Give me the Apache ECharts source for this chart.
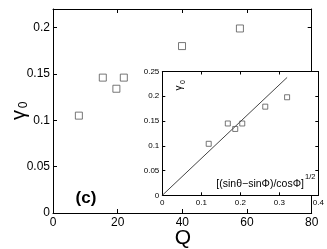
<!DOCTYPE html>
<html>
<head>
<meta charset="utf-8">
<script src="https://cdn.jsdelivr.net/npm/echarts@6/dist/echarts.min.js"></script>
<style>
html,body{margin:0;padding:0;background:#fff;}
#c{width:327px;height:249px;}
</style>
</head>
<body>
<div id="c"></div>
<script>
// Main panel data: gamma_0 versus Q
var qValues = [8.0, 15.4, 19.6, 21.9, 39.9, 57.8];
var gammaMain = [0.105, 0.146, 0.134, 0.146, 0.180, 0.199];
// Inset data: gamma_0 versus [(sin(theta)-sin(Phi))/cos(Phi)]^(1/2)
var sqrtRatio = [0.119, 0.168, 0.187, 0.205, 0.264, 0.320];
var gammaInset = [0.104, 0.145, 0.134, 0.145, 0.179, 0.198];
// Fitted straight line in the inset
var fitX = [0, 0.32];
var fitY = [0, 0.238];

var FONT = 'Liberation Sans, Arial, sans-serif';

function pairs(a, b) { return a.map(function (v, i) { return [v, b[i]]; }); }

var chart = echarts.init(document.getElementById('c'), null, {renderer: 'canvas'});

var lineStyle = {color: '#000', width: 1};
function mainAxis(extra) {
  return Object.assign({
    axisLine: {show: true, onZero: false, lineStyle: lineStyle},
    axisTick: {show: true, inside: true, length: 4, lineStyle: lineStyle},
    splitLine: {show: false},
    z: 1
  }, extra);
}
function insetAxis(extra) {
  return Object.assign({
    axisLine: {show: true, onZero: false, lineStyle: {color: '#000', width: 1}},
    axisTick: {show: true, inside: true, length: 3, lineStyle: {color: '#000', width: 1}},
    splitLine: {show: false},
    z: 8
  }, extra);
}
function txt(x, y, text, size, rot, extra) {
  return {
    type: 'text', x: x, y: y, rotation: rot || 0, zlevel: 1, z: 50,
    style: Object.assign({text: text, fontSize: size, fill: '#000', fontFamily: FONT,
      align: 'center', verticalAlign: 'middle'}, extra || {})
  };
}

var R = Math.PI / 2;

var option = {
  backgroundColor: '#fff',
  animation: false,
  grid: [
    {left: 53, top: 9, width: 258.7, height: 204, containLabel: false, outerBoundsMode: 'none', z: 0},
    {left: 162.3, top: 71.5, width: 156, height: 123.8, show: true, backgroundColor: '#fff', borderWidth: 0, outerBoundsMode: 'none', z: 6}
  ],
  xAxis: [
    mainAxis({type: 'value', gridIndex: 0, position: 'bottom', min: 0, max: 80, interval: 20,
      axisLabel: {fontSize: 12, color: '#000', margin: 4, fontFamily: FONT}}),
    mainAxis({type: 'value', gridIndex: 0, position: 'top', min: 0, max: 80, interval: 20,
      axisLabel: {show: false}}),
    insetAxis({type: 'value', gridIndex: 1, position: 'bottom', min: 0, max: 0.4, interval: 0.1,
      axisLabel: {fontSize: 8, color: '#000', margin: 3, fontFamily: FONT}}),
    insetAxis({type: 'value', gridIndex: 1, position: 'top', min: 0, max: 0.4, interval: 0.1,
      axisLabel: {show: false}})
  ],
  yAxis: [
    mainAxis({type: 'value', gridIndex: 0, position: 'left', min: 0, max: 0.22, interval: 0.05,
      axisLabel: {fontSize: 12, color: '#000', margin: 3, fontFamily: FONT, showMaxLabel: false}}),
    mainAxis({type: 'value', gridIndex: 0, position: 'right', min: 0, max: 0.22, interval: 0.05,
      axisLabel: {show: false}}),
    insetAxis({type: 'value', gridIndex: 1, position: 'left', min: 0, max: 0.25, interval: 0.05,
      axisLabel: {fontSize: 8, color: '#000', margin: 3, fontFamily: FONT}}),
    insetAxis({type: 'value', gridIndex: 1, position: 'right', min: 0, max: 0.25, interval: 0.05,
      axisLabel: {show: false}})
  ],
  series: [
    {
      type: 'scatter', xAxisIndex: 0, yAxisIndex: 0,
      data: pairs(qValues, gammaMain),
      symbol: 'rect', symbolSize: 7,
      itemStyle: {color: 'rgba(255,255,255,0)', borderColor: '#555', borderWidth: 1},
      z: 2
    },
    {
      type: 'scatter', xAxisIndex: 2, yAxisIndex: 2,
      data: pairs(sqrtRatio, gammaInset),
      symbol: 'rect', symbolSize: 5,
      itemStyle: {color: 'rgba(255,255,255,0)', borderColor: '#555', borderWidth: 1},
      z: 9
    },
    {
      type: 'line', xAxisIndex: 2, yAxisIndex: 2,
      data: pairs(fitX, fitY),
      showSymbol: false, symbol: 'none',
      lineStyle: {color: '#444', width: 1},
      z: 9
    }
  ],
  graphic: {
    elements: [
      txt(19, 115, 'γ', 20, R),
      txt(24, 105, '0', 12, R),
      txt(183, 238, 'Q', 21, 0),
      txt(86, 198, '(c)', 17, 0, {fontWeight: 'bold'}),
      txt(179, 88, 'γ', 10, R),
      txt(183, 82, '0', 7, R),
      txt(304, 184, '[(sinθ−sinΦ)/cosΦ]', 10.5, 0, {align: 'right'}),
      txt(305, 177, '1/2', 7.5, 0, {align: 'left'})
    ]
  }
};
chart.setOption(option);
</script>
</body>
</html>
